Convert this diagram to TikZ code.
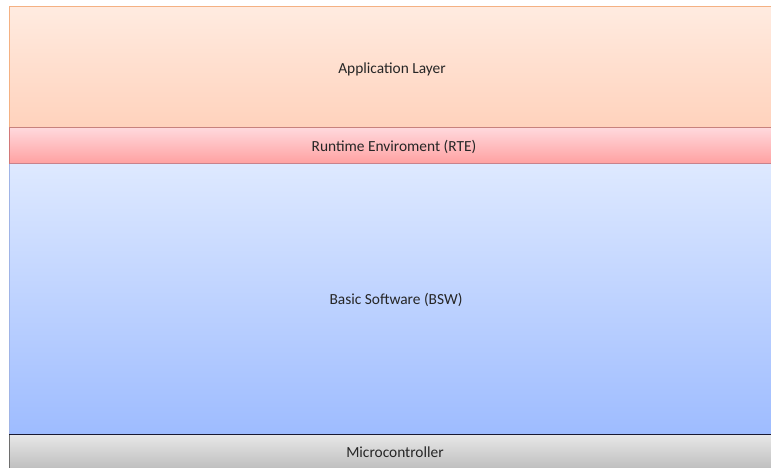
\documentclass[tikz,border=0pt]{standalone}
\usepackage{fontspec}
\setmainfont{Carlito}
\begin{document}
\begin{tikzpicture}[x=1pt,y=-1pt,
  lbl/.style={font=\fontsize{15.4}{18}\selectfont, text=black!85},
  layer/.style={line width=1pt}]
\useasboundingbox (0,0) rectangle (771,468);
\fill[white] (0,0) rectangle (771,468);
% Application layer
\shade[top color={rgb,255:red,255;green,235;blue,224}, bottom color={rgb,255:red,255;green,210;blue,188}] (9,7) rectangle (772,128);
\draw[layer, draw={rgb,255:red,244;green,177;blue,131}] (772,7) -- (9,7) -- (9,128);
\node[lbl] (app) at (392,69) {Application Layer};
% RTE
\shade[top color={rgb,255:red,255;green,216;blue,220}, bottom color={rgb,255:red,255;green,160;blue,160}] (9,128) rectangle (772,164);
\draw[layer, draw={rgb,255:red,200;green,130;blue,125}] (9,128) -- (772,128);
\draw[layer, draw={rgb,255:red,200;green,130;blue,140}] (9,164) -- (772,164);
\draw[layer, draw={rgb,255:red,210;green,120;blue,120}] (9,128) -- (9,164);
\node[lbl] (rte) at (394,147) {Runtime Enviroment (RTE)};
% BSW
\shade[top color={rgb,255:red,222;green,233;blue,255}, bottom color={rgb,255:red,158;green,188;blue,255}] (9,164) rectangle (772,434);
\draw[layer, draw={rgb,255:red,160;green,180;blue,230}] (9,164) -- (9,434);
\node[lbl] (bsw) at (396,300) {Basic Software (BSW)};
% Microcontroller
\shade[top color={rgb,255:red,232;green,232;blue,232}, bottom color={rgb,255:red,190;green,190;blue,190}] (9,434) rectangle (772,469);
\draw[layer, draw={rgb,255:red,110;green,110;blue,110}] (9,434) -- (9,469);
\draw[layer, draw={rgb,255:red,25;green,25;blue,50}] (9,434) -- (772,434);
\node[lbl] (mcu) at (395,452) {Microcontroller};
\end{tikzpicture}
\end{document}
